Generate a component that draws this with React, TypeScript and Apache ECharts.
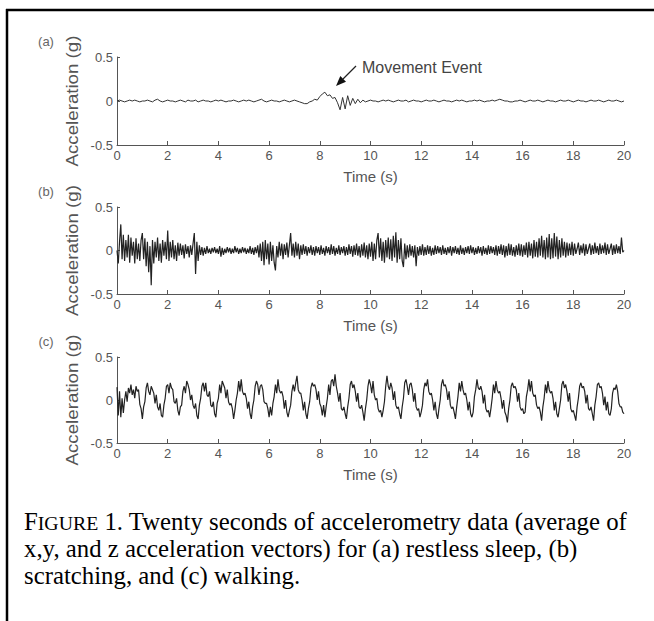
import React, { useEffect, useRef } from "react";
import * as echarts from "echarts";

// sample intervals (s)
const DT_A = 0.1;
const DT_BC = 0.05;

const xTicks = { min: 0, max: 20, interval: 2 };
const yTicks = { min: -0.5, max: 0.5, interval: 0.5 };

const panelTags = ["(a)", "(b)", "(c)"];

// (a) restless sleep, t = 0..20 step 0.1
const restlessSleep = [
  0.00, 0.01, 0.00, -0.01, 0.00, 0.01, 0.00, 0.01, 0.00, -0.01,
  0.00, 0.00, 0.01, 0.00, -0.01, 0.01, 0.02, 0.00, -0.01, 0.00,
  0.01, 0.00, 0.00, -0.01, 0.00, 0.01, 0.00, -0.01, 0.01, 0.00,
  0.00, 0.01, -0.01, 0.00, 0.01, 0.00, 0.00, -0.01, 0.00, 0.01,
  0.00, 0.01, 0.00, -0.01, 0.00, 0.00, 0.01, 0.00, -0.01, 0.00,
  0.01, 0.00, 0.01, 0.00, -0.01, 0.00, 0.01, 0.02, 0.00, -0.01,
  0.00, 0.01, 0.00, 0.00, -0.01, 0.00, 0.01, 0.00, -0.01, 0.00,
  0.01, 0.00, -0.01, -0.02, -0.03, -0.03, -0.01, 0.00, 0.02, 0.01,
  0.05, 0.08, 0.10, 0.06, 0.07, 0.03, 0.04, -0.02, -0.10, 0.04,
  -0.09, 0.06, -0.05, 0.03, -0.03, 0.02, -0.02, 0.01, -0.01, 0.00,
  0.01, 0.00, 0.00, -0.01, 0.00, 0.01, 0.00, 0.01, 0.00, -0.01,
  0.00, 0.01, 0.00, 0.00, 0.01, -0.01, 0.00, 0.01, 0.00, 0.00,
  -0.01, 0.00, 0.01, 0.00, 0.00, 0.01, 0.00, -0.01, 0.00, 0.01,
  0.00, 0.00, -0.01, 0.00, 0.01, 0.00, 0.01, 0.00, -0.01, 0.00,
  0.00, 0.01, 0.00, 0.01, 0.00, -0.01, 0.00, 0.00, 0.01, 0.00,
  0.01, 0.02, 0.01, 0.00, 0.00, -0.01, -0.01, 0.00, 0.00, 0.01,
  0.00, -0.01, 0.00, 0.01, 0.00, 0.00, 0.01, 0.00, -0.01, 0.00,
  0.01, 0.00, 0.00, -0.01, 0.00, 0.01, 0.00, 0.00, 0.01, 0.00,
  -0.01, 0.00, 0.01, 0.00, 0.00, -0.01, 0.00, 0.01, 0.00, 0.00,
  0.01, 0.00, -0.01, 0.00, 0.01, 0.00, 0.00, 0.01, 0.00, -0.01,
  0.00,
];

// (b) scratching, t = 0..20 step 0.05
const scratching = [
  0.00, -0.15, 0.10, 0.30, -0.10, 0.18, -0.12, 0.12, -0.08, 0.18, -0.14, 0.15, -0.06, 0.10, -0.15, 0.14, -0.10, 0.08, -0.12, 0.12,
  0.20, -0.10, 0.14, -0.18, 0.10, -0.25, 0.05, -0.40, 0.12, -0.15, 0.10, -0.08, 0.15, -0.12, 0.08, -0.14, 0.12, -0.06, 0.10, -0.10,
  0.23, -0.12, 0.10, -0.08, 0.12, -0.10, 0.06, -0.12, 0.09, -0.06, 0.08, -0.05, 0.06, -0.09, 0.07, -0.04, 0.05, -0.08, 0.06, -0.05,
  0.08, 0.20, -0.27, 0.10, -0.12, 0.06, -0.05, 0.04, -0.06, 0.03, -0.04, 0.05, -0.03, 0.02, -0.04, 0.03, -0.02, 0.04, -0.03, 0.02,
  -0.04, 0.05, -0.07, 0.03, -0.05, 0.02, -0.03, 0.04, -0.02, 0.03, -0.04, 0.02, -0.03, 0.05, -0.02, 0.03, -0.04, 0.02, -0.03, 0.04,
  -0.02, 0.03, -0.04, 0.02, -0.03, 0.05, -0.04, 0.03, -0.05, 0.04, -0.03, 0.06, -0.08, 0.08, -0.12, 0.10, -0.17, 0.12, -0.10, 0.08,
  -0.16, 0.10, -0.12, 0.06, -0.14, -0.23, 0.05, -0.08, 0.10, -0.06, 0.08, -0.10, 0.07, -0.05, 0.09, -0.08, 0.06, 0.20, -0.06, 0.08,
  -0.08, 0.10, -0.06, 0.08, -0.10, 0.06, -0.05, 0.07, -0.04, 0.05, -0.06, 0.04, -0.03, 0.06, -0.05, 0.04, -0.06, 0.05, -0.03, 0.04,
  -0.05, 0.06, -0.04, 0.03, -0.06, 0.05, -0.03, 0.04, -0.05, 0.07, -0.04, 0.05, -0.06, 0.03, -0.04, 0.06, -0.05, 0.04, -0.03, 0.05,
  -0.06, 0.04, -0.05, 0.07, -0.04, 0.05, -0.07, 0.06, -0.05, 0.08, -0.06, 0.05, -0.08, 0.07, -0.06, 0.09, -0.08, 0.06, -0.10, 0.08,
  -0.07, 0.10, -0.12, 0.08, -0.10, 0.12, 0.20, -0.08, 0.14, -0.12, 0.10, -0.14, 0.12, -0.08, 0.15, -0.10, 0.13, -0.12, 0.17, -0.08,
  0.21, -0.14, 0.12, -0.10, 0.14, -0.12, -0.19, 0.08, -0.10, 0.06, -0.08, 0.07, -0.06, 0.05, -0.08, 0.06, -0.18, 0.04, -0.06, 0.05,
  -0.05, 0.07, -0.06, 0.04, -0.05, 0.06, -0.04, 0.05, -0.06, 0.03, -0.05, 0.06, -0.04, 0.05, -0.03, 0.04, -0.05, 0.06, -0.04, 0.03,
  -0.05, 0.04, -0.03, 0.05, -0.06, 0.04, -0.03, 0.05, -0.04, 0.03, -0.05, 0.06, -0.04, 0.03, -0.05, 0.04, -0.03, 0.05, -0.04, 0.06,
  -0.03, 0.04, -0.05, 0.03, -0.04, 0.05, -0.03, 0.04, -0.06, 0.05, -0.04, 0.03, -0.05, 0.06, -0.04, 0.05, -0.03, 0.04, -0.05, 0.06,
  -0.06, 0.05, -0.04, 0.07, -0.05, 0.06, -0.08, 0.05, -0.06, 0.08, -0.05, 0.07, -0.06, 0.04, -0.07, 0.06, -0.05, 0.08, -0.06, 0.07,
  -0.07, 0.06, -0.05, 0.09, -0.08, 0.10, -0.06, 0.08, -0.09, 0.12, -0.07, 0.10, -0.08, 0.14, -0.06, 0.17, -0.08, 0.12, -0.10, 0.15,
  -0.08, 0.19, -0.10, 0.14, -0.09, 0.20, -0.07, 0.16, -0.10, 0.12, -0.08, 0.14, -0.06, 0.10, -0.08, 0.09, -0.06, 0.08, -0.05, 0.10,
  -0.06, 0.08, -0.04, 0.02, 0.09, -0.05, 0.06, -0.03, 0.08, -0.06, 0.07, -0.04, 0.02, 0.08, -0.05, 0.06, -0.04, 0.09, -0.03, 0.05,
  -0.05, 0.08, -0.04, 0.06, -0.03, 0.09, -0.05, 0.07, -0.04, 0.02, 0.08, -0.05, 0.06, -0.04, 0.07, -0.03, 0.05, -0.04, 0.15, -0.02,
  0.00,
];

// (c) walking, t = 0..20 step 0.05
const walking = [
  0.15, -0.18, 0.10, -0.20, 0.02, -0.15, 0.00, 0.10, -0.02, 0.14, 0.08, 0.18, 0.06, 0.12, 0.02, 0.16, 0.10, 0.12, -0.05, -0.10,
  -0.22, -0.08, -0.02, 0.14, 0.20, 0.10, 0.06, 0.16, 0.12, 0.08, -0.04, 0.06, -0.08, -0.12, -0.04, -0.18, -0.20, -0.06, 0.02, 0.16,
  0.18, 0.08, 0.20, 0.14, 0.12, -0.02, -0.04, 0.02, -0.12, -0.18, -0.08, -0.06, 0.10, 0.16, 0.08, 0.22, 0.18, 0.12, 0.00, 0.06,
  -0.06, -0.10, -0.04, -0.18, -0.22, -0.06, 0.02, 0.16, 0.20, 0.10, 0.20, 0.06, 0.04, 0.10, -0.06, -0.08, -0.02, -0.16, -0.20, -0.04,
  0.02, 0.18, 0.08, 0.22, 0.18, 0.14, 0.02, 0.12, -0.02, -0.06, -0.04, -0.10, -0.22, -0.12, 0.00, 0.08, 0.22, 0.10, 0.24, 0.10,
  0.06, 0.08, 0.02, -0.10, -0.02, -0.16, -0.22, -0.08, 0.00, 0.16, 0.22, 0.18, 0.06, 0.16, 0.18, 0.12, -0.02, -0.04, -0.04, -0.10,
  -0.20, -0.08, -0.18, -0.04, 0.04, 0.18, 0.08, 0.24, 0.12, 0.08, 0.10, 0.04, -0.10, 0.00, -0.14, -0.20, -0.12, -0.06, 0.10, 0.18,
  0.10, 0.20, 0.28, 0.12, 0.08, 0.08, 0.00, -0.12, -0.02, -0.16, -0.22, -0.10, -0.02, 0.14, 0.20, 0.16, 0.18, 0.12, 0.00, 0.10,
  -0.04, -0.08, -0.18, -0.06, -0.20, -0.08, 0.02, 0.18, 0.06, 0.22, 0.24, 0.16, 0.30, 0.16, 0.08, -0.02, 0.08, -0.10, -0.12, -0.08,
  -0.16, -0.22, -0.08, 0.02, 0.18, 0.22, 0.14, 0.18, 0.10, -0.02, 0.08, -0.08, -0.10, -0.06, -0.14, -0.24, -0.10, 0.00, 0.16, 0.24,
  0.18, 0.08, 0.22, 0.06, 0.00, 0.02, -0.10, -0.14, -0.12, -0.20, -0.12, -0.02, 0.16, 0.28, 0.16, 0.12, 0.20, 0.14, 0.00, 0.10,
  -0.06, -0.10, -0.08, -0.16, -0.22, -0.08, 0.02, 0.20, 0.24, 0.16, 0.06, 0.18, 0.20, 0.12, -0.02, 0.08, -0.08, -0.12, -0.10, -0.20,
  -0.14, -0.06, 0.12, 0.20, 0.16, 0.24, 0.10, 0.06, 0.08, 0.00, -0.12, -0.02, -0.16, -0.22, -0.10, 0.00, 0.18, 0.24, 0.16, 0.18,
  0.12, 0.00, 0.10, -0.06, -0.10, -0.08, -0.14, -0.22, -0.08, 0.04, 0.20, 0.10, 0.22, 0.12, 0.06, 0.08, 0.00, -0.12, -0.02, -0.16,
  -0.20, -0.14, 0.04, 0.12, 0.24, 0.14, 0.12, 0.16, 0.10, -0.04, 0.06, -0.10, -0.14, -0.12, -0.20, -0.10, 0.02, 0.18, 0.08, 0.22,
  0.12, 0.08, 0.10, 0.02, -0.10, 0.00, -0.14, -0.18, -0.26, -0.10, 0.00, 0.16, 0.20, 0.14, 0.16, 0.12, -0.02, 0.08, -0.08, -0.12,
  -0.10, -0.16, -0.14, 0.04, 0.12, 0.24, 0.10, 0.22, 0.08, 0.04, 0.06, -0.06, -0.10, -0.08, -0.14, -0.24, -0.08, 0.02, 0.18, 0.08,
  0.22, 0.12, 0.08, 0.10, 0.02, -0.12, -0.02, -0.16, -0.20, -0.10, 0.00, 0.18, 0.22, 0.14, 0.18, 0.10, -0.02, 0.08, -0.10, -0.14,
  -0.12, -0.18, -0.24, -0.08, 0.02, 0.16, 0.20, 0.14, 0.16, 0.10, -0.04, 0.06, -0.10, -0.12, -0.08, -0.16, -0.24, -0.06, 0.04, 0.18,
  0.20, 0.14, 0.16, 0.08, -0.06, 0.04, -0.12, -0.02, -0.16, -0.18, -0.10, 0.08, 0.14, 0.12, 0.18, 0.10, -0.04, -0.08, -0.08, -0.14,
  -0.16,
];

const xAxisName = "Time (s)";
const yAxisName = "Acceleration (g)";
const annotationText = "Movement Event";
const captionLines = [
  "{big|F}{sm|IGURE} 1. Twenty seconds of accelerometry data (average of",
  "x,y, and z acceleration vectors) for (a) restless sleep, (b)",
  "scratching, and (c) walking.",
];

const SANS = "'Liberation Sans', Arial, sans-serif";
const SERIF = "'Liberation Serif', 'Times New Roman', serif";
const AXIS_GRAY = "#555";

const grids = [
  { left: 117, top: 57, width: 507, height: 88 },
  { left: 117, top: 207, width: 507, height: 87 },
  { left: 117, top: 357, width: 507, height: 86 },
];

function pairs(vals: number[], dt: number) {
  return vals.map((v, i) => [Math.round(i * dt * 100) / 100, v]);
}

export default function App() {
  const ref = useRef<HTMLDivElement>(null);
  useEffect(() => {
    document.body.style.margin = "0";
    if (!ref.current) return;
    const chart = echarts.init(ref.current, undefined, { renderer: "svg" });
    const seriesData = [
      pairs(restlessSleep, DT_A),
      pairs(scratching, DT_BC),
      pairs(walking, DT_BC),
    ];
    const graphics: any[] = [
      { type: "line", shape: { x1: 6, y1: 10, x2: 654, y2: 10 }, style: { stroke: "#000", lineWidth: 2.5 } },
      { type: "line", shape: { x1: 7, y1: 9, x2: 7, y2: 621 }, style: { stroke: "#000", lineWidth: 2.5 } },
    ];
    grids.forEach((g, i) => {
      graphics.push({
        type: "text",
        x: 46,
        y: g.top - 16,
        style: { text: panelTags[i], fill: "#666", fontSize: 13, fontFamily: SANS, align: "center", verticalAlign: "middle", textAlign: "center", textVerticalAlign: "middle" },
      });
      graphics.push({
        type: "text",
        x: 72,
        y: g.top + g.height / 2,
        rotation: Math.PI / 2,
        scaleX: 1.1,
        style: { text: yAxisName, fill: AXIS_GRAY, fontSize: 17, fontFamily: SANS, align: "center", verticalAlign: "middle", textAlign: "center", textVerticalAlign: "middle" },
      });
    });
    graphics.push({
      type: "text",
      x: 362,
      y: 67,
      style: { text: annotationText, fill: "#444", fontSize: 16, fontFamily: SANS, align: "left", verticalAlign: "middle", textAlign: "left", textVerticalAlign: "middle" },
    });
    graphics.push({ type: "line", shape: { x1: 356, y1: 66, x2: 343, y2: 79 }, style: { stroke: "#222", lineWidth: 1.3 } });
    graphics.push({ type: "polygon", shape: { points: [[336, 86], [346, 81.7], [340.3, 76]] }, style: { fill: "#111" } });
    const capY = [521, 548, 575];
    captionLines.forEach((t, i) => {
      graphics.push({
        type: "text",
        x: 24,
        y: capY[i],
        style: {
          text: t,
          fill: "#000",
          fontSize: 24.8,
          fontFamily: SERIF,
          align: "left",
          verticalAlign: "middle",
          textAlign: "left",
          textVerticalAlign: "middle",
          rich: {
            big: { fontSize: 24.8, fontFamily: SERIF, fill: "#000" },
            sm: { fontSize: 19.8, fontFamily: SERIF, fill: "#000", verticalAlign: "bottom", padding: [0, 0, 1, 0] },
          },
        },
      });
    });

    const option: any = {
      animation: false,
      backgroundColor: "#fff",
      grid: grids.map((g) => ({ ...g, containLabel: false })),
      xAxis: grids.map((_, i) => ({
        gridIndex: i,
        type: "value",
        min: xTicks.min,
        max: xTicks.max,
        interval: xTicks.interval,
        name: xAxisName,
        nameLocation: "middle",
        nameGap: 24,
        nameTextStyle: { color: AXIS_GRAY, fontSize: 15, fontFamily: SANS },
        axisLine: { show: true, onZero: false, lineStyle: { color: AXIS_GRAY, width: 1 } },
        axisTick: { show: true, inside: true, length: 4, lineStyle: { color: AXIS_GRAY } },
        axisLabel: { margin: 4, color: AXIS_GRAY, fontSize: 13, fontFamily: SANS },
        splitLine: { show: false },
      })),
      yAxis: grids.map((_, i) => ({
        gridIndex: i,
        type: "value",
        min: yTicks.min,
        max: yTicks.max,
        interval: yTicks.interval,
        axisLine: { show: true, onZero: false, lineStyle: { color: AXIS_GRAY, width: 1 } },
        axisTick: { show: true, inside: true, length: 3, lineStyle: { color: AXIS_GRAY } },
        axisLabel: { margin: 4, color: AXIS_GRAY, fontSize: 13, fontFamily: SANS },
        splitLine: { show: false },
      })),
      series: seriesData.map((d, i) => ({
        type: "line",
        xAxisIndex: i,
        yAxisIndex: i,
        showSymbol: false,
        symbol: "none",
        data: d,
        lineStyle: { color: i === 0 ? "#333" : "#222", width: i === 0 ? 1 : 1.2 },
        emphasis: { disabled: true },
      })),
      graphic: graphics,
    };
    chart.setOption(option);
    return () => chart.dispose();
  }, []);
  return <div ref={ref} style={{ position: "absolute", left: 0, top: 0, width: 654, height: 621 }} />;
}
